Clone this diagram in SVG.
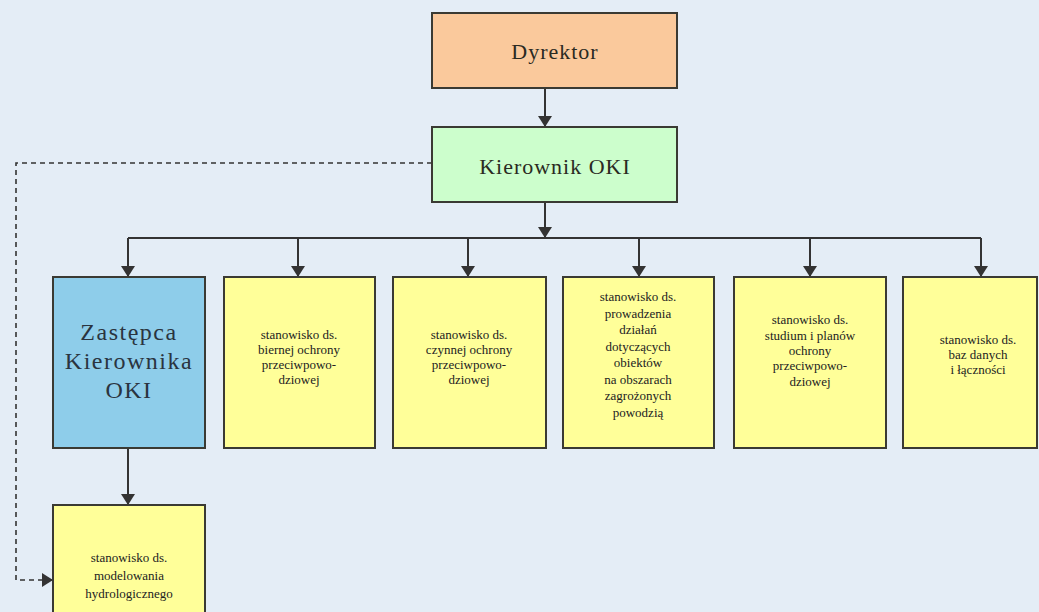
<svg xmlns="http://www.w3.org/2000/svg" width="1039" height="612" viewBox="0 0 1039 612">
<style>
text{font-family:'Liberation Serif','DejaVu Serif','Times New Roman',serif;text-anchor:middle}
.box{stroke:#3a3a33;stroke-width:2}
.big{font-size:22px;fill:#2a2a22;letter-spacing:1px}
.zk{font-size:24px;fill:#2a3440;letter-spacing:1.5px}
.sm{font-size:13px;fill:#222}
.ln{stroke:#333;stroke-width:2;fill:none}
.dash{stroke:#333;stroke-width:1.6;fill:none;stroke-dasharray:5 4}
</style>
<defs>
<marker id="ah" viewBox="0 0 11 14" refX="11" refY="7" markerWidth="11" markerHeight="14" markerUnits="userSpaceOnUse" orient="auto">
<path d="M0,0 L11,7 L0,14 Z" fill="#333"/>
</marker>
</defs>
<rect width="1039" height="612" fill="#e4edf6"/>
<g id="connectors">
<path class="ln" d="M545,88 V127" marker-end="url(#ah)"/>
<path class="ln" d="M545,202 V238" marker-end="url(#ah)"/>
<path class="ln" d="M128,238 H981"/>
<path class="ln" d="M128,238 V277" marker-end="url(#ah)"/>
<path class="ln" d="M298,238 V277" marker-end="url(#ah)"/>
<path class="ln" d="M468,238 V277" marker-end="url(#ah)"/>
<path class="ln" d="M639,238 V277" marker-end="url(#ah)"/>
<path class="ln" d="M810,238 V277" marker-end="url(#ah)"/>
<path class="ln" d="M981,238 V277" marker-end="url(#ah)"/>
<path class="ln" d="M128,448 V505" marker-end="url(#ah)"/>
<path class="dash" d="M432,163 H16 V580 H53" marker-end="url(#ah)"/>
</g>
<g id="dyrektor">
<rect class="box" x="432" y="13" width="245" height="75" fill="#fac99c"/>
<text class="big" x="555" y="59">Dyrektor</text>
</g>
<g id="kierownik">
<rect class="box" x="432" y="127" width="245" height="75" fill="#ccfecc"/>
<text class="big" x="555" y="174">Kierownik OKI</text>
</g>
<g id="zastepca">
<rect class="box" x="53" y="277" width="152" height="171" fill="#8ecdea"/>
<text class="zk" x="129" y="340">Zastępca</text>
<text class="zk" x="129" y="369">Kierownika</text>
<text class="zk" x="129" y="398">OKI</text>
</g>
<g id="bierna">
<rect class="box" x="224" y="277" width="151" height="171" fill="#ffff99"/>
<text class="sm" x="299" y="339">stanowisko ds.</text>
<text class="sm" x="299" y="354">biernej ochrony</text>
<text class="sm" x="299" y="369">przeciwpowo-</text>
<text class="sm" x="299" y="384">dziowej</text>
</g>
<g id="czynna">
<rect class="box" x="393" y="277" width="153" height="171" fill="#ffff99"/>
<text class="sm" x="469" y="339">stanowisko ds.</text>
<text class="sm" x="469" y="354">czynnej ochrony</text>
<text class="sm" x="469" y="369">przeciwpowo-</text>
<text class="sm" x="469" y="384">dziowej</text>
</g>
<g id="dzialania">
<rect class="box" x="563" y="277" width="151" height="171" fill="#ffff99"/>
<text class="sm" x="638" y="301">stanowisko ds.</text>
<text class="sm" x="638" y="318">prowadzenia</text>
<text class="sm" x="638" y="334">działań</text>
<text class="sm" x="638" y="351">dotyczących</text>
<text class="sm" x="638" y="367">obiektów</text>
<text class="sm" x="638" y="384">na obszarach</text>
<text class="sm" x="638" y="400">zagrożonych</text>
<text class="sm" x="638" y="417">powodzią</text>
</g>
<g id="studia">
<rect class="box" x="734" y="277" width="152" height="171" fill="#ffff99"/>
<text class="sm" x="810" y="324">stanowisko ds.</text>
<text class="sm" x="810" y="340">studium i planów</text>
<text class="sm" x="810" y="355">ochrony</text>
<text class="sm" x="810" y="370">przeciwpowo-</text>
<text class="sm" x="810" y="386">dziowej</text>
</g>
<g id="bazy">
<rect class="box" x="903" y="277" width="134" height="171" fill="#ffff99"/>
<text class="sm" x="978" y="344">stanowisko ds.</text>
<text class="sm" x="978" y="359">baz danych</text>
<text class="sm" x="978" y="374">i łączności</text>
</g>
<g id="modelowanie">
<rect class="box" x="53" y="505" width="152" height="120" fill="#ffff99"/>
<text class="sm" x="129" y="562">stanowisko ds.</text>
<text class="sm" x="129" y="580">modelowania</text>
<text class="sm" x="129" y="598">hydrologicznego</text>
</g>
</svg>
